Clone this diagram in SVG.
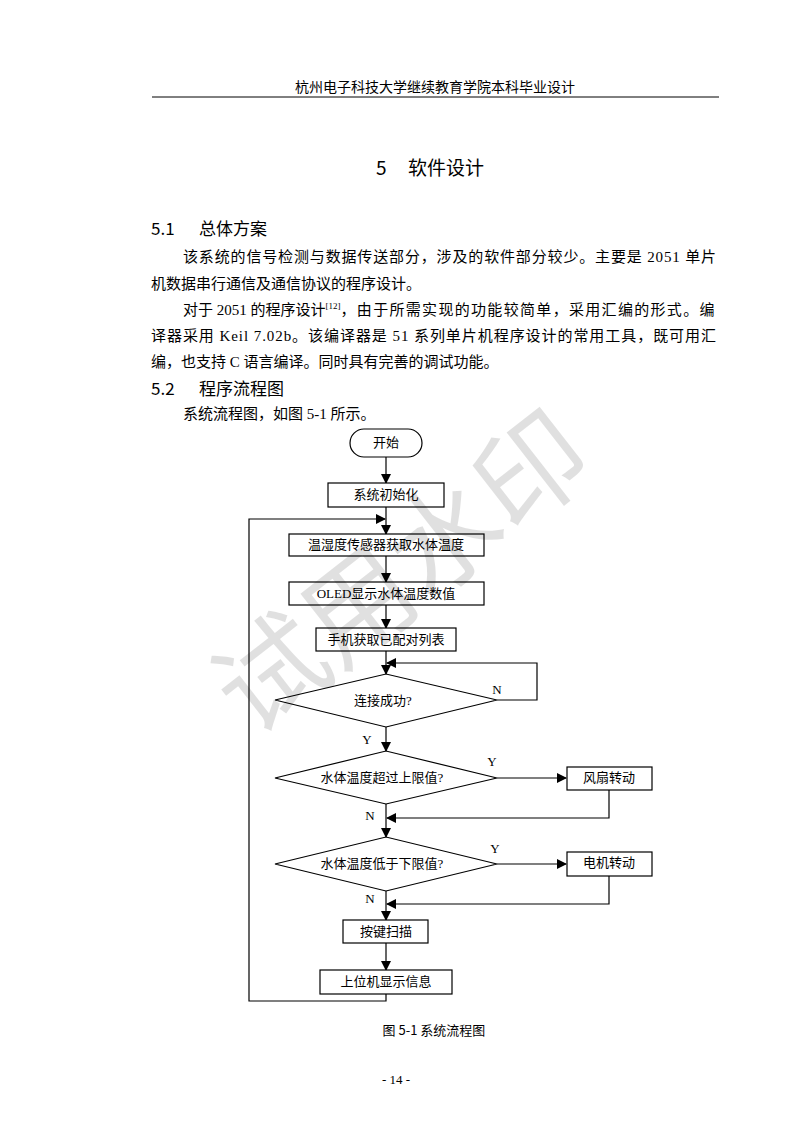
<svg xmlns="http://www.w3.org/2000/svg" width="793" height="1122" viewBox="0 0 793 1122">
<style>
.b{fill:#fff;stroke:#000;stroke-width:1.2}
.l{fill:none;stroke:#000;stroke-width:1.2}
.t{font-family:"Liberation Serif","Noto Sans CJK SC",serif;font-size:13px;text-anchor:middle;fill:#000}
.p{font-family:"Liberation Serif","Noto Sans CJK SC",serif;font-size:15px;fill:#000}
.h{font-family:"Noto Sans CJK SC",sans-serif;font-size:17px;fill:#000}
</style>
<defs><marker id="a" markerWidth="10" markerHeight="10" refX="9" refY="5" orient="auto" markerUnits="userSpaceOnUse"><path d="M0,0L10,5L0,10z" fill="#000"/></marker></defs>
<rect width="793" height="1122" fill="#fff"/>
<text x="435" y="92" class="p" text-anchor="middle" style="font-family:'Noto Sans CJK SC',sans-serif;font-size:14px">杭州电子科技大学继续教育学院本科毕业设计</text>
<line x1="152" y1="97" x2="719" y2="97" stroke="#000" stroke-width="1"/>
<text x="376" y="175" class="h" style="font-size:19px">5</text>
<text x="408" y="175" class="h" style="font-size:19px">软件设计</text>
<text x="151" y="235" class="h">5.1</text>
<text x="199" y="235" class="h">总体方案</text>
<text x="183" y="262" class="p" textLength="533">该系统的信号检测与数据传送部分，涉及的软件部分较少。主要是 2051 单片</text>
<text x="151" y="289" class="p">机数据串行通信及通信协议的程序设计。</text>
<text x="183" y="315" class="p">对于 2051 的程序设计<tspan font-size="9" dy="-6">[12]</tspan><tspan dy="6" textLength="374">，由于所需实现的功能较简单，采用汇编的形式。编</tspan></text>
<text x="151" y="341" class="p" textLength="565">译器采用 Keil 7.02b。该编译器是 51 系列单片机程序设计的常用工具，既可用汇</text>
<text x="151" y="367" class="p">编，也支持 C 语言编译。同时具有完善的调试功能。</text>
<text x="151" y="395" class="h">5.2</text>
<text x="199" y="395" class="h">程序流程图</text>
<text x="183" y="419" class="p">系统流程图，如图 5-1 所示。</text>

<g id="connectors">
<line class="l" x1="386" y1="457" x2="386" y2="483" marker-end="url(#a)"/>
<line class="l" x1="386" y1="507" x2="386" y2="534" marker-end="url(#a)"/>
<polyline class="l" points="386,994 386,1001 249,1001 249,519 385,519" marker-end="url(#a)"/>
<line class="l" x1="386" y1="556" x2="386" y2="582" marker-end="url(#a)"/>
<line class="l" x1="386" y1="605" x2="386" y2="628" marker-end="url(#a)"/>
<line class="l" x1="386" y1="651" x2="386" y2="674" marker-end="url(#a)"/>
<polyline class="l" points="497,700 537,700 537,663 387,663" marker-end="url(#a)"/>
<line class="l" x1="386" y1="727" x2="386" y2="751" marker-end="url(#a)"/>
<line class="l" x1="497" y1="778" x2="566" y2="778" marker-end="url(#a)"/>
<polyline class="l" points="609,790 609,818 387,818" marker-end="url(#a)"/>
<line class="l" x1="386" y1="804" x2="386" y2="837" marker-end="url(#a)"/>
<line class="l" x1="497" y1="864" x2="566" y2="864" marker-end="url(#a)"/>
<polyline class="l" points="609,876 609,904 387,904" marker-end="url(#a)"/>
<line class="l" x1="386" y1="891" x2="386" y2="920" marker-end="url(#a)"/>
<line class="l" x1="386" y1="943" x2="386" y2="970" marker-end="url(#a)"/>
<text x="497" y="694" class="t">N</text>
<text x="367" y="744" class="t">Y</text>
<text x="492" y="766" class="t">Y</text>
<text x="370" y="820" class="t">N</text>
<text x="495" y="853" class="t">Y</text>
<text x="370" y="903" class="t">N</text>
</g>
<g id="start"><rect class="b" x="350" y="429" width="72" height="28" rx="14"/><text x="386" y="447" class="t">开始</text></g>
<g id="init"><rect class="b" x="328" y="483" width="116" height="24"/><text x="386" y="499" class="t">系统初始化</text></g>
<g id="sensor"><rect class="b" x="289" y="534" width="195" height="22"/><text x="386" y="549" class="t">温湿度传感器获取水体温度</text></g>
<g id="oled"><rect class="b" x="289" y="582" width="195" height="23"/><text x="386" y="598" class="t">OLED显示水体温度数值</text></g>
<g id="phone"><rect class="b" x="316" y="628" width="140" height="23"/><text x="386" y="644" class="t">手机获取已配对列表</text></g>
<g id="connect"><polygon class="b" points="275,700 386,674 497,700 386,727"/><text x="383" y="705" class="t">连接成功?</text></g>
<g id="upper"><polygon class="b" points="275,778 386,751 497,778 386,804"/><text x="382" y="782" class="t">水体温度超过上限值?</text></g>
<g id="fan"><rect class="b" x="567" y="767" width="85" height="23"/><text x="609" y="782" class="t">风扇转动</text></g>
<g id="lower"><polygon class="b" points="275,864 386,837 497,864 386,891"/><text x="382" y="868" class="t">水体温度低于下限值?</text></g>
<g id="motor"><rect class="b" x="567" y="852" width="85" height="24"/><text x="609" y="867" class="t">电机转动</text></g>
<g id="key"><rect class="b" x="343" y="920" width="85" height="23"/><text x="386" y="936" class="t">按键扫描</text></g>
<g id="pc"><rect class="b" x="320" y="970" width="132" height="24"/><text x="386" y="986" class="t">上位机显示信息</text></g>
<text x="434" y="1035" class="t" style="font-family:'Noto Sans CJK SC',sans-serif;font-size:13px">图 5-1  系统流程图</text>
<text x="396" y="1084" class="t">- 14 -</text>
<text x="400" y="612" transform="rotate(-38 400 570)" text-anchor="middle" style="font-family:'Noto Sans CJK SC',sans-serif;font-size:110px;fill:#000;fill-opacity:0.12">试用水印</text>
</svg>
